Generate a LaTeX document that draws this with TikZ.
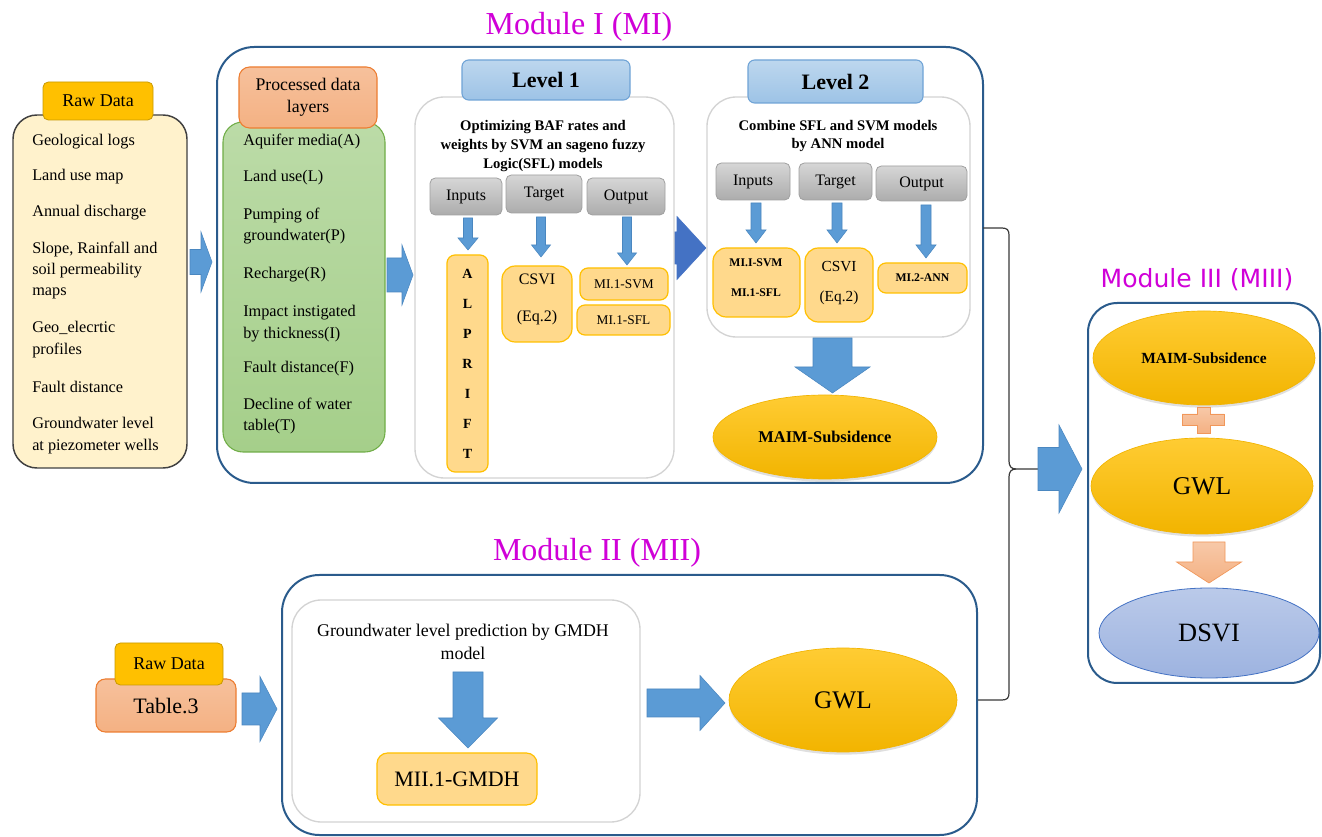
\documentclass[tikz,border=0pt]{standalone}
\usepackage{fontspec}
\setmainfont{Liberation Serif}
\newfontfamily\sansf{DejaVu Sans}
\usetikzlibrary{fit,shapes.geometric,shadows}
\definecolor{modblue}{HTML}{2A5B8C}
\definecolor{magt}{HTML}{D000D8}
\definecolor{gold}{HTML}{FFC000}
\definecolor{golddk}{HTML}{C99A00}
\definecolor{goldtop}{HTML}{FFCC33}
\definecolor{goldbot}{HTML}{F2B400}
\definecolor{beige}{HTML}{FFF2CC}
\definecolor{salmon}{HTML}{F4B183}
\definecolor{salmondk}{HTML}{ED7D31}
\definecolor{grn}{HTML}{A5CF8A}
\definecolor{grndk}{HTML}{70AD47}
\definecolor{lvl}{HTML}{9DC3E6}
\definecolor{lvltop}{HTML}{BDD7EE}
\definecolor{lvldk}{HTML}{6FA3D6}
\definecolor{lgray}{HTML}{D3D3D3}
\definecolor{gtop}{HTML}{D6D6D6}
\definecolor{gbot}{HTML}{ACACAC}
\definecolor{gboxdk}{HTML}{A0A0A0}
\definecolor{oboxc}{HTML}{FFD98C}
\definecolor{arrblue}{HTML}{5B9BD5}
\definecolor{arrbluedk}{HTML}{4A87C0}
\definecolor{darkarr}{HTML}{4472C4}
\definecolor{dsvi}{HTML}{9DB3E0}
\definecolor{dsvidk}{HTML}{4472C4}
\definecolor{bracec}{HTML}{3A3A3A}
\tikzset{
  modbox/.style={draw=modblue, line width=1.5pt, rounded corners=28pt, inner sep=0pt},
  rawbox/.style={draw=black!75, line width=1.1pt, fill=beige, rounded corners=18pt, inner sep=0pt},
  goldtab/.style={draw=golddk, line width=0.6pt, fill=gold, rounded corners=4pt, inner sep=0pt},
  saltab/.style={draw=salmondk, line width=0.8pt, top color=salmon!80!white, bottom color=salmon, rounded corners=8pt, inner sep=0pt},
  grnbox/.style={draw=grndk, line width=0.8pt, top color=grn!75!white, bottom color=grn, rounded corners=15pt, inner sep=0pt},
  lvltab/.style={draw=lvldk, line width=0.8pt, top color=lvltop, bottom color=lvl, rounded corners=5pt, inner sep=0pt},
  wbox/.style={draw=lgray, line width=1pt, fill=white, rounded corners=22pt, inner sep=0pt},
  gbox/.style={draw=gboxdk, line width=0.6pt, top color=gtop, bottom color=gbot, rounded corners=4pt, inner sep=0pt},
  obox/.style={draw=gold, line width=0.9pt, fill=oboxc, rounded corners=6pt, inner sep=0pt},
  goldell/.style={ellipse, draw=goldbot, line width=0.5pt, top color=goldtop, bottom color=goldbot, inner sep=0pt,
     drop shadow={opacity=0.25, shadow xshift=0pt, shadow yshift=-2pt}},
  barrow/.style={fill=arrblue, draw=arrbluedk, line width=0.4pt},
  darrow/.style={fill=darkarr, draw=darkarr, line width=0.4pt},
  sarrow/.style={top color=salmon!70!white, bottom color=salmon, draw=salmondk!80, line width=0.5pt},
  txt/.style={inner sep=0pt},
  lst/.style={inner sep=0pt, anchor=west, align=left, font=\fontsize{12.2}{16.1}\selectfont},
  title/.style={inner sep=0pt, text=magt, font=\fontsize{24}{28}\selectfont},
  brace/.style={draw=bracec, line width=0.9pt}
}
% box with centred text: style, fit corners, name, font, text
\newcommand{\BoxT}[5]{%
  \node[#1, fit={#2}] (#3) {};
  \node[txt, align=center, font=#4] (#3t) at (#3.center) {#5};}
% right block arrow: style, x start, y centre, x tip, half shaft, half head, head length
\newcommand{\RArrow}[7]{%
  \path[#1] (#2,#3-#5) -- (#4-#7,#3-#5) -- (#4-#7,#3-#6) -- (#4,#3) -- (#4-#7,#3+#6) -- (#4-#7,#3+#5) -- (#2,#3+#5) -- cycle;}
% down block arrow: style, x centre, y top, y tip, half shaft, half head, head length
\newcommand{\DArrow}[7]{%
  \path[#1] (#2-#5,#3) -- (#2+#5,#3) -- (#2+#5,#4-#7) -- (#2+#6,#4-#7) -- (#2,#4) -- (#2-#6,#4-#7) -- (#2-#5,#4-#7) -- cycle;}
\begin{document}
\begin{tikzpicture}[x=0.75pt,y=-0.75pt]
\fill[white] (0,0) rectangle (1322,837);
\useasboundingbox (0,0) rectangle (1322,837);

% ---------- Module I ----------
\node[title] (t1) at (579,27) {Module I (MI)};
\node[modbox, fit={(217,47) (983,483)}] (m1) {};

% Raw data (top)
\node[rawbox, fit={(13,115) (187,468)}] (rd) {};
\BoxT{goldtab}{(43,82) (153,120)}{rdt}{\fontsize{13.5}{16}\selectfont}{Raw Data}
\node[lst] (r1) at (32,142) {Geological logs};
\node[lst] (r2) at (32,177) {Land use map};
\node[lst] (r3) at (32,213) {Annual discharge};
\node[lst] (r4) at (32,270.5) {Slope, Rainfall and\\soil permeability\\maps};
\node[lst] (r5) at (32,339.5) {Geo\_elecrtic\\profiles};
\node[lst] (r6) at (32,387) {Fault distance};
\node[lst] (r7) at (32,435.5) {Groundwater level\\at piezometer wells};

\RArrow{barrow}{190}{262}{212}{12.5}{30}{11}

% Processed data layers
\node[grnbox, fit={(223,122) (385,452)}] (pd) {};
\BoxT{saltab}{(239,67) (377,128)}{pdt}{\fontsize{13.3}{16.5}\selectfont}{Processed data\\layers}
\node[lst] (p1) at (243,142) {Aquifer media(A)};
\node[lst] (p2) at (243,178) {Land use(L)};
\node[lst] (p3) at (243,226) {Pumping of\\groundwater(P)};
\node[lst] (p4) at (243,275) {Recharge(R)};
\node[lst] (p5) at (243,323.5) {Impact instigated\\by thickness(I)};
\node[lst] (p6) at (243,369) {Fault distance(F)};
\node[lst] (p7) at (243,416) {Decline of water\\table(T)};

\RArrow{barrow}{387}{275}{413}{17}{30}{11}

% Level 1 -> Level 2 arrow (shaft hidden behind level 1 box)
\RArrow{darrow}{660}{248}{706}{16}{31.5}{29}

% Level 1
\node[wbox, fit={(415,97) (674,478)}] (l1) {};
\BoxT{lvltab}{(462,60) (630,100)}{l1t}{\bfseries\fontsize{16.5}{20}\selectfont}{Level 1}
\node[txt, font=\bfseries\fontsize{11}{14.25}\selectfont, align=center] (l1d) at (543,146) {Optimizing BAF rates and\\weights by SVM an sageno fuzzy\\Logic(SFL) models};
\BoxT{gbox}{(430,178) (502,215)}{l1i}{\fontsize{12}{14}\selectfont}{Inputs}
\BoxT{gbox}{(506,175) (582,213)}{l1g}{\fontsize{12}{14}\selectfont}{Target}
\BoxT{gbox}{(587,178) (665,215)}{l1o}{\fontsize{12}{14}\selectfont}{Output}
\DArrow{barrow}{468}{218}{250}{4.5}{10}{12}
\DArrow{barrow}{541}{217}{257}{4.5}{9.5}{12}
\DArrow{barrow}{627}{217}{265}{4.5}{9.5}{12}
\node[obox, fit={(447,255) (488,472)}] (alp) {};
\node[txt, align=center, font=\bfseries\fontsize{10.5}{22.5}\selectfont] (alpt) at (467.5,364) {A\\L\\P\\R\\I\\F\\T};
\node[obox, fit={(502,266) (572,342)}, rounded corners=10pt] (csv1) {};
\node[txt, font=\fontsize{12}{27.75}\selectfont, align=center] (csv1t) at (537,299) {CSVI\\(Eq.2)};
\BoxT{obox}{(580,268) (668,300)}{svm1}{\fontsize{10}{12}\selectfont}{MI.1-SVM}
\BoxT{obox}{(577,305) (670,335)}{sfl1}{\fontsize{10}{12}\selectfont}{MI.1-SFL}

% Level 2
\node[wbox, fit={(707,97) (970,337)}] (l2) {};
\BoxT{lvltab}{(748,60) (923,103)}{l2t}{\bfseries\fontsize{16.5}{20}\selectfont}{Level 2}
\node[txt, font=\bfseries\fontsize{11}{13.5}\selectfont, align=center] (l2d) at (838,136) {Combine SFL and SVM models\\by ANN model};
\BoxT{gbox}{(716,163) (790,200)}{l2i}{\fontsize{12}{14}\selectfont}{Inputs}
\BoxT{gbox}{(799,163) (872,200)}{l2g}{\fontsize{12}{14}\selectfont}{Target}
\BoxT{gbox}{(876,166) (967,201)}{l2o}{\fontsize{12}{14}\selectfont}{Output}
\DArrow{barrow}{756}{203}{243}{5}{10}{13}
\DArrow{barrow}{837}{203}{243}{5}{10}{13}
\DArrow{barrow}{926}{205}{258}{5}{10}{13}
\node[obox, fit={(713,248) (800,317)}, rounded corners=10pt] (in2) {};
\node[txt, font=\bfseries\fontsize{8.8}{22.5}\selectfont, align=center] (in2t) at (756,278) {MI.I-SVM\\MI.1-SFL};
\node[obox, fit={(805,248) (873,322)}, rounded corners=10pt] (csv2) {};
\node[txt, font=\fontsize{11.5}{22.5}\selectfont, align=center] (csv2t) at (839,283) {CSVI\\(Eq.2)};
\BoxT{obox}{(878,263) (967,293)}{ann2}{\bfseries\fontsize{8.8}{12}\selectfont}{MI.2-ANN}

\DArrow{barrow}{832.5}{338}{393}{19.5}{37.5}{26}
\node[goldell, minimum width=168pt, minimum height=63pt, font=\bfseries\fontsize{12.3}{14}\selectfont] (maim1) at (825,437) {MAIM-Subsidence};

% ---------- Module II ----------
\node[title] (t2) at (597,553) {Module II (MII)};
\node[modbox, fit={(282,575) (977,835)}] (m2) {};
\node[saltab, fit={(96,679) (236,732)}, rounded corners=7pt] (tab3) {};
\node[txt, font=\fontsize{16.5}{20}\selectfont] (tab3t) at (166,706) {Table.3};
\BoxT{goldtab}{(115,643) (223,685)}{rd2}{\fontsize{13.5}{16}\selectfont}{Raw Data}
\RArrow{barrow}{242}{709}{277}{16}{32.5}{17}
\node[wbox, fit={(292,600) (640,822)}] (gm) {};
\node[txt, font=\fontsize{13.4}{17.25}\selectfont, align=center] (gmt) at (463,641.5) {Groundwater level prediction by GMDH\\model};
\DArrow{barrow}{468}{672}{748}{15}{29.5}{30}
\BoxT{obox, rounded corners=8pt}{(377,753) (537,805)}{gmdh}{\fontsize{16.5}{20}\selectfont}{MII.1-GMDH}
\RArrow{barrow}{647}{703}{725}{14}{27.5}{25}
\node[goldell, minimum width=171pt, minimum height=78pt, font=\fontsize{19}{22}\selectfont] (gwl2) at (843,700) {GWL};

% ---------- brace ----------
\coordinate (bA) at (983,228);
\coordinate (bB) at (978,700);
\coordinate (bT) at (1016,469);
\coordinate (bE) at (1040,469);
\draw[brace] (bA) -- (1002,228) .. controls (1007,228) and (1009,230) .. (1009,235) -- (1009,461) .. controls (1009,466) and (1011,469) .. (bT) -- (bE);
\draw[brace] (bT) .. controls (1011,469) and (1009,472) .. (1009,477) -- (1009,693) .. controls (1009,698) and (1007,700) .. (1002,700) -- (bB);
\RArrow{barrow}{1038}{469}{1082}{21.5}{44}{23}

% ---------- Module III ----------
\node[inner sep=0pt, text=magt, font=\sansf\fontsize{18.8}{22}\selectfont] (t3) at (1197,280) {Module III (MIII)};
\node[modbox, rounded corners=22pt, fit={(1088,303) (1320,683)}] (m3) {};
\node[goldell, minimum width=166.5pt, minimum height=70.5pt, font=\bfseries\fontsize{11.6}{14}\selectfont] (maim3) at (1204,358) {MAIM-Subsidence};
\path[sarrow] (1197,407) -- (1210,407) -- (1210,414) -- (1224,414) -- (1224,425) -- (1210,425) -- (1210,433) -- (1197,433) -- (1197,425) -- (1182,425) -- (1182,414) -- (1197,414) -- cycle;
\node[goldell, minimum width=166.5pt, minimum height=72pt, font=\fontsize{19.2}{22}\selectfont] (gwl3) at (1202,486) {GWL};
\DArrow{sarrow}{1209}{542}{583}{16}{32.5}{21}
\node[ellipse, draw=dsvidk, line width=0.6pt, top color=dsvi!70!white, bottom color=dsvi, inner sep=0pt, minimum width=165pt, minimum height=67.5pt, font=\fontsize{19.8}{22}\selectfont] (dsvi) at (1209,633) {DSVI};
\end{tikzpicture}
\end{document}
